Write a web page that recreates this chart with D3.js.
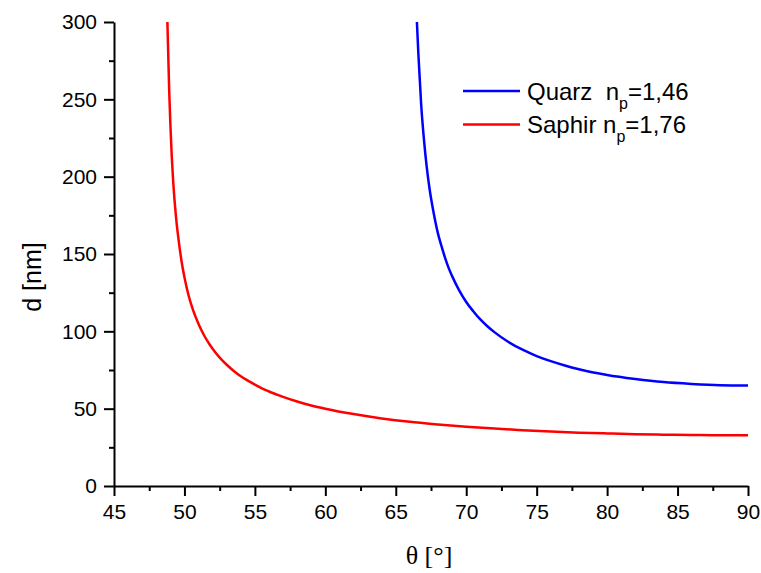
<!DOCTYPE html>
<html>
<head>
<meta charset="utf-8">
<script src="https://cdn.jsdelivr.net/npm/d3@7"></script>
<style>
  body { margin: 0; background: #fff; }
  text { font-family: Arial, "Liberation Sans", sans-serif; fill: #000; }
  .axis path, .axis line { stroke: #000; stroke-width: 2; }
</style>
</head>
<body>
<svg id="chart" width="761" height="573"></svg>
<script>
// angle of incidence (deg) and penetration depth (nm)
var quarzTheta = [66.5, 66.6, 66.8, 67.0, 67.2, 67.4, 67.7, 68.0, 68.25, 68.5, 68.75, 69.0, 69.5, 70, 70.5, 71, 71.5, 72, 73, 74, 75, 76, 77, 78, 80, 82, 84, 86, 88, 90];
var quarzD = [300, 280, 247, 224, 206, 192, 176, 163, 155, 147.5, 141, 135.7, 126.5, 119, 113, 107.7, 103.3, 99.5, 93.1, 88.1, 84.0, 80.7, 77.9, 75.5, 71.8, 69.2, 67.2, 66.0, 65.2, 65.0];
var saphirTheta = [48.79, 48.85, 48.92, 49.0, 49.1, 49.2, 49.4, 49.6, 49.8, 50.0, 50.3, 50.6, 51.0, 51.4, 51.8, 52.2, 52.6, 53.0, 53.5, 54.0, 54.5, 55.0, 55.5, 56.0, 57, 58, 59, 60, 62, 64, 66, 68, 70, 72, 74, 76, 78, 80, 82, 84, 86, 88, 90];
var saphirD = [300, 279, 255, 234, 213, 197, 174, 158, 145, 135, 123, 114, 104.8, 97.3, 91.3, 86.3, 82.0, 78.4, 74.4, 71.0, 68.1, 65.5, 63.1, 61.1, 57.6, 54.6, 52.1, 50.0, 46.5, 43.7, 41.5, 39.8, 38.3, 37.1, 36.1, 35.2, 34.5, 34.0, 33.5, 33.2, 33.0, 32.8, 32.8];
var seriesNames = ['Quarz  n', 'Saphir n'];
var seriesIdx = ['=1,46', '=1,76'];
var seriesColors = ['#0000ff', '#ff0000'];
var xMajor = [45, 50, 55, 60, 65, 70, 75, 80, 85, 90];
var yMajor = [0, 50, 100, 150, 200, 250, 300];

var margin = {left: 114, top: 22};
var width = 634, height = 464;
var svg = d3.select('#chart');
var g = svg.append('g').attr('transform', 'translate(' + margin.left + ',' + margin.top + ')');

var x = d3.scaleLinear().domain([45, 90]).range([0, width]);
var y = d3.scaleLinear().domain([0, 300]).range([height, 0]);

svg.append('defs').append('clipPath').attr('id', 'plot-clip')
    .append('rect').attr('width', width).attr('height', height);

// minor ticks first, then the major axes on top
var xMinor = d3.range(47.5, 90, 5);
var yMinor = d3.range(25, 300, 50);
g.append('g').attr('class', 'axis').attr('transform', 'translate(0,' + height + ')')
    .call(d3.axisBottom(x).tickValues(xMinor).tickSize(5).tickFormat(''))
    .select('.domain').remove();
g.append('g').attr('class', 'axis')
    .call(d3.axisLeft(y).tickValues(yMinor).tickSize(5).tickFormat(''))
    .select('.domain').remove();

var xAxis = g.append('g').attr('class', 'axis').attr('transform', 'translate(0,' + height + ')')
    .call(d3.axisBottom(x).tickValues(xMajor).tickSize(10).tickSizeOuter(0).tickPadding(8));
var yAxis = g.append('g').attr('class', 'axis')
    .call(d3.axisLeft(y).tickValues(yMajor).tickSize(10).tickSizeOuter(0).tickPadding(7));
xAxis.selectAll('text').style('font-size', '21px').style('font-family', 'Arial, "Liberation Sans", sans-serif');
yAxis.selectAll('text').style('font-size', '21px').style('font-family', 'Arial, "Liberation Sans", sans-serif');

var line = d3.line()
    .x(function (d) { return x(d[0]); })
    .y(function (d) { return y(d[1]); })
    .curve(d3.curveMonotoneX);

var series = [d3.zip(quarzTheta, quarzD), d3.zip(saphirTheta, saphirD)];
g.append('g').attr('clip-path', 'url(#plot-clip)')
    .selectAll('path').data(series).enter().append('path')
    .attr('d', line)
    .attr('fill', 'none')
    .attr('stroke', function (d, i) { return seriesColors[i]; })
    .attr('stroke-width', 2.5);

// legend
var legend = svg.append('g').attr('transform', 'translate(463,91)');
var items = legend.selectAll('g').data(seriesNames).enter().append('g')
    .attr('transform', function (d, i) { return 'translate(0,' + (i * 33.5) + ')'; });
items.append('line')
    .attr('x1', 0).attr('x2', 57)
    .attr('stroke', function (d, i) { return seriesColors[i]; })
    .attr('stroke-width', 2.5);
var label = items.append('text')
    .attr('x', 64).attr('y', 8.5)
    .style('font-size', '24px')
    .style('white-space', 'pre');
label.append('tspan').text(function (d) { return d; });
label.append('tspan').attr('dy', 9).style('font-size', '16px').text('p');
label.append('tspan').attr('dy', -9).text(function (d, i) { return seriesIdx[i]; });

// axis titles
svg.append('text')
    .attr('x', 429).attr('y', 564)
    .attr('text-anchor', 'middle')
    .style('font-family', '"Liberation Serif", "Times New Roman", serif')
    .style('font-size', '26px')
    .text('θ [°]');

svg.append('text')
    .attr('transform', 'translate(41,277) rotate(-90)')
    .attr('text-anchor', 'middle')
    .style('font-size', '25px')
    .text('d [nm]');
</script>
</body>
</html>
